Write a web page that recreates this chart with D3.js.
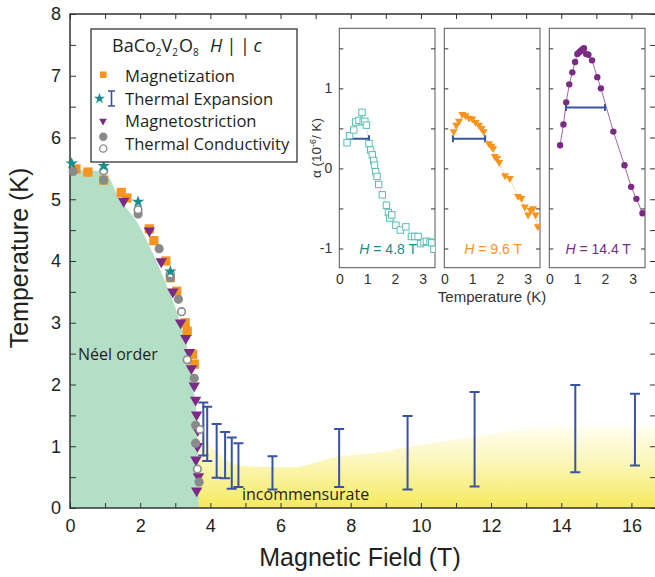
<!DOCTYPE html>
<html>
<head>
<meta charset="utf-8">
<script src="https://cdn.jsdelivr.net/npm/d3@7"></script>
<style>
  body { margin: 0; background: #fff; }
  svg { display: block; }
  .tick line { stroke: #333; }
  .lab { font-family: "Open Sans", sans-serif; }
  .num { font-family: "Liberation Sans", Arial, sans-serif; }
</style>
</head>
<body>
<div id="chart"></div>
<script>
// phase boundary points [H (T), T (K)]
var magnetization = [[0.17,5.49],[0.51,5.44],[0.96,5.31],[1.46,5.11],[1.62,5.02],[2.26,4.52],[2.39,4.33],
  [2.73,4.0],[2.86,3.73],[3.04,3.51],[3.28,3.0],[3.34,2.86],[3.49,2.49],[3.54,2.33]];
var expansionStars = [[0.05,5.58],[0.96,5.54],[1.94,4.96],[2.86,3.83]];
var magnetostriction = [[1.53,4.97],[2.26,4.49],[2.60,3.99],[2.93,3.50],[3.15,3.0],[3.30,2.75],[3.40,2.52],
  [3.46,2.26],[3.54,1.98],[3.58,1.75],[3.61,1.51],[3.64,1.26],[3.63,1.00],[3.59,0.78],[3.66,0.51],[3.61,0.28]];
var conductivityFilled = [[0.09,5.45],[0.96,5.31],[1.94,4.76],[2.54,4.20],[2.86,3.73],[3.09,3.38],[3.54,2.10],
  [3.58,1.34],[3.58,1.05],[3.68,0.42]];
var conductivityOpen = [[0.96,5.46],[1.94,4.83],[2.86,3.79],[3.18,3.18],[3.34,2.40],[3.70,1.27],[3.63,0.63]];
// thermal expansion error bars [H, Tlow, Thigh]
var expansionBars = [[3.80,0.85,1.71],[3.91,0.76,1.64],[4.18,0.49,1.36],[4.42,0.48,1.23],[4.61,0.31,1.14],
  [4.80,0.34,1.05],[5.77,0.30,0.84],[7.67,0.34,1.28],[9.62,0.30,1.49],[11.53,0.35,1.88],[14.4,0.58,1.99],[16.1,0.69,1.85]];
// shaded regions
var neelBoundary = [[0,5.46],[0.9,5.45],[1.1,5.36],[1.4,5.02],[1.9,4.64],[2.38,4.1],[2.79,3.56],[2.97,3.3],
  [3.15,2.98],[3.33,2.63],[3.45,2.2],[3.55,1.8],[3.61,1.5],[3.64,1.0],[3.66,0.5],[3.67,0]];
var incommTop = [[3.63,1.3],[3.85,1.1],[4.3,0.85],[4.9,0.68],[6.3,0.66],[7.6,0.83],[8.8,0.9],[9.75,1.0],
  [11.2,1.12],[14.0,1.33],[16.7,1.33]];
var xTicks = d3.range(0, 17, 1);
var yTicks = d3.range(0, 8.01, 0.5);

// inset curves [T (K), alpha (1e-6/K)]
var inset48 = [[0.28,0.32],[0.37,0.41],[0.52,0.48],[0.59,0.58],[0.71,0.60],[0.82,0.70],[0.86,0.58],[0.92,0.59],
  [0.98,0.54],[1.07,0.31],[1.13,0.23],[1.19,0.17],[1.24,0.10],[1.27,0.04],[1.31,-0.04],[1.36,-0.10],[1.42,-0.20],
  [1.55,-0.33],[1.70,-0.46],[1.77,-0.55],[1.82,-0.62],[1.89,-0.58],[2.04,-0.71],[2.20,-0.77],[2.40,-0.73],
  [2.60,-0.85],[2.72,-0.85],[2.84,-0.85],[2.93,-0.94],[3.05,-0.92],[3.14,-0.91],[3.27,-0.92],[3.33,-0.93],[3.41,-1.01]];
var inset96 = [[0.34,0.46],[0.43,0.54],[0.53,0.59],[0.65,0.675],[0.77,0.66],[0.89,0.63],[1.01,0.62],[1.13,0.575],
  [1.25,0.54],[1.34,0.50],[1.42,0.46],[1.61,0.31],[1.70,0.28],[1.76,0.25],[1.82,0.15],[1.90,0.125],[1.98,0.075],
  [2.19,-0.09],[2.36,-0.125],[2.66,-0.35],[2.78,-0.37],[2.90,-0.48],[3.02,-0.58],[3.11,-0.52],[3.20,-0.50],
  [3.29,-0.58],[3.37,-0.725]];
var inset144 = [[0.39,0.29],[0.51,0.55],[0.61,0.825],[0.72,1.05],[0.83,1.20],[0.93,1.33],[1.01,1.43],[1.08,1.45],
  [1.14,1.47],[1.20,1.49],[1.25,1.50],[1.33,1.43],[1.41,1.42],[1.54,1.35],[1.73,1.14],[1.86,1.0],[2.31,0.46],
  [2.71,0.04],[2.95,-0.23],[3.14,-0.38],[3.36,-0.56]];
var insetBars = [[0.37,1.07,0.37],[0.31,1.47,0.37],[0.60,2.01,0.76]];
var insetFields = ["4.8", "9.6", "14.4"];

var orange = "#f7941d", purple = "#7b2a85", teal = "#1a8c8c", blue = "#3953a4", grey = "#8a8a8c";
var ink = "#231f20";

var svg = d3.select("#chart").append("svg")
  .attr("width", 655)
  .attr("height", 577);

var x = d3.scaleLinear().domain([0, 16.7]).range([70, 656]);
var y = d3.scaleLinear().domain([0, 8]).range([508, 14]);

var defs = svg.append("defs");
var grad = defs.append("linearGradient")
  .attr("id", "yel")
  .attr("x1", 0).attr("y1", 0).attr("x2", 0).attr("y2", 1);
grad.append("stop").attr("offset", "0%").attr("stop-color", "#fffef2");
grad.append("stop").attr("offset", "45%").attr("stop-color", "#fbf6b8");
grad.append("stop").attr("offset", "100%").attr("stop-color", "#f4ea5c");

// incommensurate region
svg.append("path")
  .attr("d", d3.area()
    .x(d => x(d[0]))
    .y0(y(0))
    .y1(d => y(d[1]))
    .curve(d3.curveMonotoneX)(incommTop))
  .attr("fill", "url(#yel)");

// Neel region
svg.append("path")
  .attr("d", d3.line()
    .x(d => x(d[0]))
    .y(d => y(d[1]))
    .curve(d3.curveCatmullRom)(neelBoundary) + "L" + x(0) + "," + y(0) + "Z")
  .attr("fill", "#b3dfc7");

// axes
var fmtInt = d => (d % 2 === 0 ? d : "");
svg.append("g")
  .attr("transform", `translate(0,${y(0)})`)
  .call(d3.axisBottom(x).tickValues(xTicks).tickSizeInner(-5).tickSizeOuter(0).tickPadding(11).tickFormat(fmtInt))
  .call(g => g.select(".domain").remove())
  .selectAll("text").attr("font-size", 18).attr("fill", ink).attr("font-family", "Liberation Sans, Arial");

svg.append("g")
  .attr("transform", `translate(0,${y(8)})`)
  .call(d3.axisTop(x).tickValues(xTicks).tickSizeInner(-5).tickSizeOuter(0).tickFormat(""))
  .call(g => g.select(".domain").remove());

svg.append("g")
  .attr("transform", `translate(${x(0)},0)`)
  .call(d3.axisLeft(y).tickValues(yTicks).tickSizeInner(-6).tickSizeOuter(0).tickPadding(9)
    .tickFormat(d => (Number.isInteger(d) ? d : "")))
  .call(g => g.select(".domain").remove())
  .selectAll("text").attr("font-size", 18).attr("fill", ink).attr("font-family", "Liberation Sans, Arial");

svg.append("g")
  .attr("transform", `translate(${x(16.7)},0)`)
  .call(d3.axisRight(y).tickValues(yTicks).tickSizeInner(-6).tickSizeOuter(0).tickFormat(""))
  .call(g => g.select(".domain").remove());

svg.append("rect")
  .attr("x", x(0)).attr("y", y(8))
  .attr("width", x(16.7) - x(0)).attr("height", y(0) - y(8))
  .attr("fill", "none").attr("stroke", "#333").attr("stroke-width", 1.5);

svg.append("text")
  .attr("class", "num")
  .attr("transform", "translate(28,258) rotate(-90)")
  .attr("text-anchor", "middle")
  .attr("font-size", 25)
  .style("fill", ink)
  .text("Temperature (K)");

svg.append("text")
  .attr("class", "num")
  .attr("x", 360).attr("y", 566)
  .attr("text-anchor", "middle")
  .attr("font-size", 25)
  .style("fill", ink)
  .text("Magnetic Field (T)");

svg.append("text").attr("class", "lab")
  .attr("x", 78).attr("y", 360).attr("font-size", 16).style("fill", ink)
  .text("Néel order");
svg.append("text").attr("class", "lab")
  .attr("x", 242).attr("y", 500).attr("font-size", 16).style("fill", ink)
  .text("incommensurate");

// error bars
var bars = svg.append("g").attr("stroke", blue).attr("stroke-width", 2).attr("fill", "none");
expansionBars.forEach(d => {
  var cx = x(d[0]);
  bars.append("path")
    .attr("d", `M${cx},${y(d[1])}V${y(d[2])}M${cx - 5},${y(d[1])}h10M${cx - 5},${y(d[2])}h10`);
});

// markers
svg.append("g").selectAll("path")
  .data(magnetization).join("path")
  .attr("transform", d => `translate(${x(d[0])},${y(d[1])})`)
  .attr("d", d3.symbol(d3.symbolSquare, 86))
  .attr("fill", orange);

svg.append("g").selectAll("path")
  .data(magnetostriction).join("path")
  .attr("transform", d => `translate(${x(d[0])},${y(d[1])}) rotate(180)`)
  .attr("d", d3.symbol(d3.symbolTriangle, 56))
  .attr("fill", purple);

svg.append("g").selectAll("circle")
  .data(conductivityFilled).join("circle")
  .attr("cx", d => x(d[0])).attr("cy", d => y(d[1]))
  .attr("r", 4.6)
  .attr("fill", grey);

svg.append("g").selectAll("circle")
  .data(conductivityOpen).join("circle")
  .attr("cx", d => x(d[0])).attr("cy", d => y(d[1]))
  .attr("r", 3.8)
  .attr("fill", "#fff").attr("stroke", grey).attr("stroke-width", 1.6);

svg.append("g").selectAll("path")
  .data(expansionStars).join("path")
  .attr("transform", d => `translate(${x(d[0])},${y(d[1])})`)
  .attr("d", d3.symbol(d3.symbolStar, 48))
  .attr("fill", teal);

// legend
var leg = svg.append("g");
leg.append("rect")
  .attr("x", 91).attr("y", 29).attr("width", 206).attr("height", 133)
  .attr("fill", "#fff").attr("stroke", "#333").attr("stroke-width", 1.3);
var title = leg.append("text").attr("class", "lab").attr("x", 112).attr("y", 52)
  .attr("font-size", 18).style("fill", ink);
title.append("tspan").text("BaCo");
title.append("tspan").text("2").attr("font-size", 10).attr("dy", 4);
title.append("tspan").text("V").attr("dy", -4);
title.append("tspan").text("2").attr("font-size", 10).attr("dy", 4);
title.append("tspan").text("O").attr("dy", -4).attr("dx", 1);
title.append("tspan").text("8").attr("font-size", 10).attr("dy", 4);
var title2 = leg.append("text").attr("class", "lab").attr("x", 210).attr("y", 52)
  .attr("font-size", 18).style("fill", ink);
title2.append("tspan").text("H").attr("font-style", "italic");
title2.append("tspan").text(" | | ").attr("letter-spacing", -0.5);
title2.append("tspan").text("c").attr("font-style", "italic");

var legItems = ["Magnetization", "Thermal Expansion", "Magnetostriction", "Thermal Conductivity"];
var legY = [81.5, 104.5, 127, 150];
legItems.forEach((t, i) => {
  leg.append("text").attr("class", "lab")
    .attr("x", 125).attr("y", legY[i]).attr("font-size", 16.6).style("fill", ink)
    .text(t);
});
leg.append("rect").attr("x", 100).attr("y", 71.5).attr("width", 6.5).attr("height", 6.5).attr("fill", orange);
leg.append("path").attr("transform", "translate(99.5,98.5)").attr("d", d3.symbol(d3.symbolStar, 38)).attr("fill", teal);
leg.append("path").attr("d", "M111.5,91V106M108,91h7M108,106h7")
  .attr("stroke", blue).attr("stroke-width", 1.6).attr("fill", "none");
leg.append("path").attr("transform", "translate(103,121) rotate(180)")
  .attr("d", d3.symbol(d3.symbolTriangle, 26)).attr("fill", purple);
leg.append("circle").attr("cx", 103.3).attr("cy", 136.7).attr("r", 4.2).attr("fill", grey);
leg.append("circle").attr("cx", 103.3).attr("cy", 148.5).attr("r", 3.6)
  .attr("fill", "#fff").attr("stroke", grey).attr("stroke-width", 1.3);

// insets
var insetLeft = [339.3, 444.3, 549.3];
var insetW = 95.7;
var ya = d3.scaleLinear().domain([-1.24, 1.75]).range([267.7, 28.3]);
var insetData = [inset48, inset96, inset144];
var insetColors = ["#5cbdb5", orange, purple];
var insetLabelColors = [teal, orange, purple];

insetData.forEach((data, i) => {
  var xa = d3.scaleLinear().domain([0, 3.45]).range([insetLeft[i], insetLeft[i] + insetW]);
  var g = svg.append("g");
  g.append("rect")
    .attr("x", xa(0)).attr("y", ya(1.75))
    .attr("width", insetW).attr("height", ya(-1.24) - ya(1.75))
    .attr("fill", "#fff").attr("stroke", "#555").attr("stroke-width", 1);

  var ticks = [-1, -0.5, 0, 0.5, 1, 1.5];
  g.append("g").attr("transform", `translate(${xa(0)},0)`)
    .call(d3.axisLeft(ya).tickValues(ticks).tickSizeInner(-4).tickSizeOuter(0)
      .tickPadding(7).tickFormat(d => (i === 0 && Number.isInteger(d) ? d : "")))
    .call(a => a.select(".domain").remove())
    .call(a => a.selectAll("line").attr("stroke", "#555"))
    .selectAll("text").attr("font-size", 14).attr("fill", "#333").attr("font-family", "Liberation Sans, Arial");
  g.append("g").attr("transform", `translate(${xa(3.45)},0)`)
    .call(d3.axisRight(ya).tickValues(ticks).tickSizeInner(-4).tickSizeOuter(0).tickFormat(""))
    .call(a => a.select(".domain").remove())
    .call(a => a.selectAll("line").attr("stroke", "#555"));
  g.append("g").attr("transform", `translate(0,${ya(-1.24)})`)
    .call(d3.axisBottom(xa).tickValues([0, 1, 2, 3]).tickSize(0).tickPadding(6).tickFormat(d3.format("d")))
    .call(a => a.select(".domain").remove())
    .selectAll("text").attr("font-size", 14).attr("fill", "#333").attr("font-family", "Liberation Sans, Arial");

  var clipId = "clip" + i;
  defs.append("clipPath").attr("id", clipId)
    .append("rect").attr("x", xa(0)).attr("y", ya(1.75))
    .attr("width", insetW).attr("height", ya(-1.24) - ya(1.75));
  var pg = g.append("g").attr("clip-path", `url(#${clipId})`);

  pg.append("path")
    .attr("d", d3.line().x(d => xa(d[0])).y(d => ya(d[1]))(data))
    .attr("fill", "none").attr("stroke", insetColors[i])
    .attr("stroke-width", i === 2 ? 0.9 : 0.8)
    .attr("stroke-dasharray", i === 2 ? null : "1.5,1.5")
    .attr("opacity", 0.8);

  var b = insetBars[i];
  pg.append("path")
    .attr("d", `M${xa(b[0])},${ya(b[2])}H${xa(b[1])}M${xa(b[0])},${ya(b[2]) - 3.5}v7M${xa(b[1])},${ya(b[2]) - 3.5}v7`)
    .attr("stroke", blue).attr("stroke-width", 2).attr("fill", "none");

  if (i === 0) {
    pg.selectAll("rect.pt").data(data).join("rect").attr("class", "pt")
      .attr("x", d => xa(d[0]) - 3.2).attr("y", d => ya(d[1]) - 3.2)
      .attr("width", 6.4).attr("height", 6.4)
      .attr("fill", "#fff").attr("stroke", insetColors[i]).attr("stroke-width", 1);
  } else if (i === 1) {
    pg.selectAll("path.pt").data(data).join("path").attr("class", "pt")
      .attr("transform", d => `translate(${xa(d[0])},${ya(d[1])}) rotate(180)`)
      .attr("d", d3.symbol(d3.symbolTriangle, 28))
      .attr("fill", orange);
  } else {
    pg.selectAll("circle.pt").data(data).join("circle").attr("class", "pt")
      .attr("cx", d => xa(d[0])).attr("cy", d => ya(d[1]))
      .attr("r", 3.2).attr("fill", purple);
  }

  var lt = g.append("text").attr("class", "num")
    .attr("x", xa(0) + insetW / 2 + 1).attr("y", 254)
    .attr("text-anchor", "middle").attr("font-size", 14)
    .style("fill", insetLabelColors[i]);
  lt.append("tspan").attr("font-style", "italic").text("H");
  lt.append("tspan").text(" = " + insetFields[i] + " T");
});

svg.append("text").attr("class", "num")
  .attr("x", 492).attr("y", 302)
  .attr("text-anchor", "middle").attr("font-size", 15).style("fill", "#333")
  .text("Temperature (K)");

var al = svg.append("text").attr("class", "num")
  .attr("transform", "translate(321,148) rotate(-90)")
  .attr("text-anchor", "middle").attr("font-size", 13.5).style("fill", "#333");
al.append("tspan").text("α (10");
al.append("tspan").text("-6").attr("font-size", 9).attr("dy", -5);
al.append("tspan").text("/ K)").attr("dy", 5);
</script>
</body>
</html>
